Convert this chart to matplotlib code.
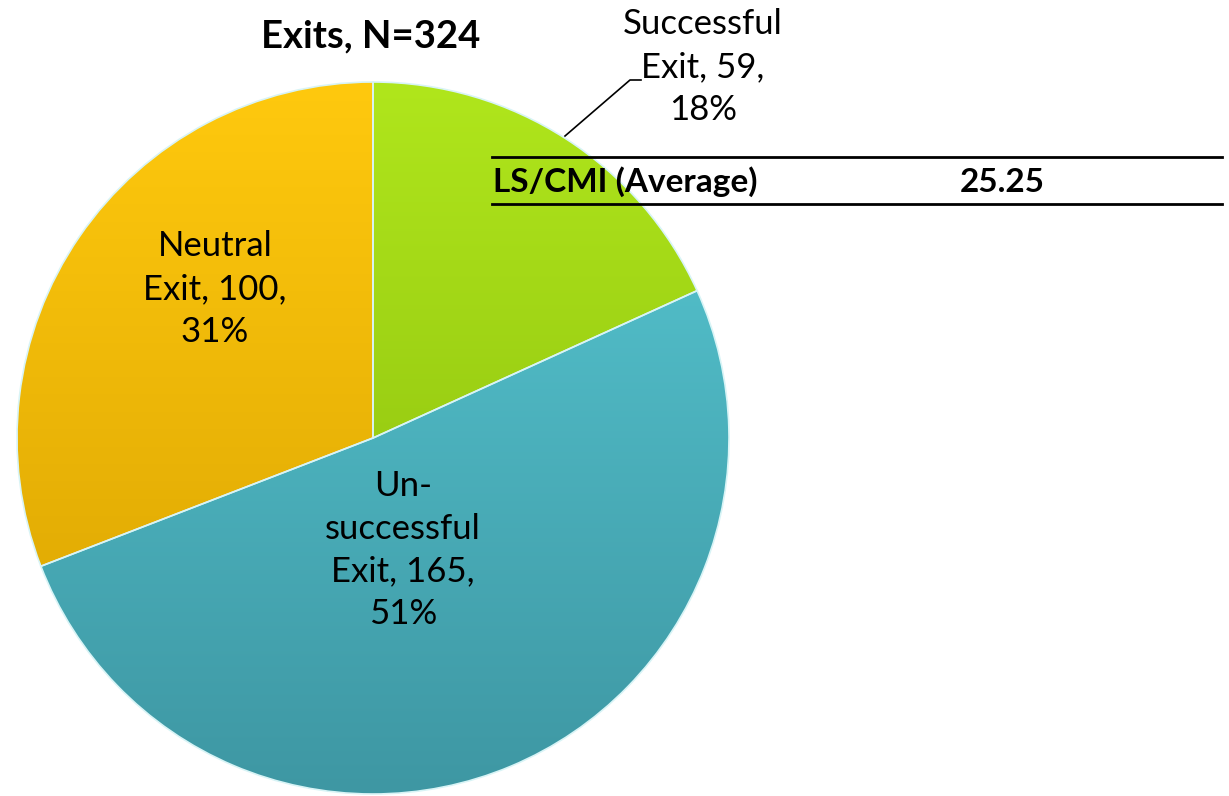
import numpy as np
import matplotlib.pyplot as plt
from matplotlib.colors import LinearSegmentedColormap

plt.rcParams['font.family'] = ['Lato', 'DejaVu Sans']

# données
categories = ["Successful Exit", "Un-successful Exit", "Neutral Exit"]
counts = [59, 165, 100]
label_txt = ["Successful\nExit, 59,\n18%", "Un-\nsuccessful\nExit, 165,\n51%", "Neutral\nExit, 100,\n31%"]
title_txt = "Exits, N=324"
table_label = "LS/CMI (Average)"
table_value = "25.25"

# couleurs (haut / bas du dégradé)
top_cols = ["#b0e61c", "#58cad5", "#ffc90e"]
bot_cols = ["#84b60a", "#3e97a3", "#d6a000"]

W, H = 1229, 796
fig = plt.figure(figsize=(W / 100, H / 100), dpi=100)
ax = fig.add_axes([0, 0, 1, 1])

cx, cy, r = 373, H - 438, 356

wedges, _ = ax.pie(counts, startangle=90, counterclock=False,
                   center=(cx, cy), radius=r, colors=top_cols,
                   wedgeprops=dict(edgecolor="#d8f4f6", linewidth=1.2))

# dégradé vertical dans chaque part
grad = np.linspace(0, 1, 256).reshape(-1, 1)
for w, c1, c2 in zip(wedges, top_cols, bot_cols):
    cmap = LinearSegmentedColormap.from_list("g", [c1, c2])
    im = ax.imshow(grad, cmap=cmap, aspect="auto",
                   extent=(cx - r, cx + r, cy - r, cy + r), origin="upper",
                   zorder=w.get_zorder() + 0.1)
    im.set_clip_path(w)
    w.set_zorder(w.get_zorder() + 0.2)
    w.set_facecolor("none")

ax.set_xlim(0, W)
ax.set_ylim(0, H)
ax.set_aspect("equal")
ax.axis("off")

fs = 25
ls = 1.42
ax.text(371, H - 36, title_txt, ha="center", va="center", fontsize=27.5, fontweight="bold")
ax.text(703, H - 67, label_txt[0], ha="center", va="center", fontsize=fs, linespacing=ls)
ax.text(403, H - 550, label_txt[1], ha="center", va="center", fontsize=fs, linespacing=ls)
ax.text(215, H - 289, label_txt[2], ha="center", va="center", fontsize=fs, linespacing=ls)

# ligne de rappel
ax.plot([565, 630, 641], [H - 136, H - 80, H - 80], color="black", lw=1.2, zorder=5)

# petit tableau
ax.plot([492, 1222], [H - 157, H - 157], color="black", lw=2, zorder=5)
ax.plot([492, 1222], [H - 204, H - 204], color="black", lw=2, zorder=5)
ax.text(493, H - 182, table_label, ha="left", va="center", fontsize=24, fontweight="bold", zorder=6)
ax.text(1002, H - 182, table_value, ha="center", va="center", fontsize=24, fontweight="bold", zorder=6)

fig.savefig("out.png", dpi=100)
